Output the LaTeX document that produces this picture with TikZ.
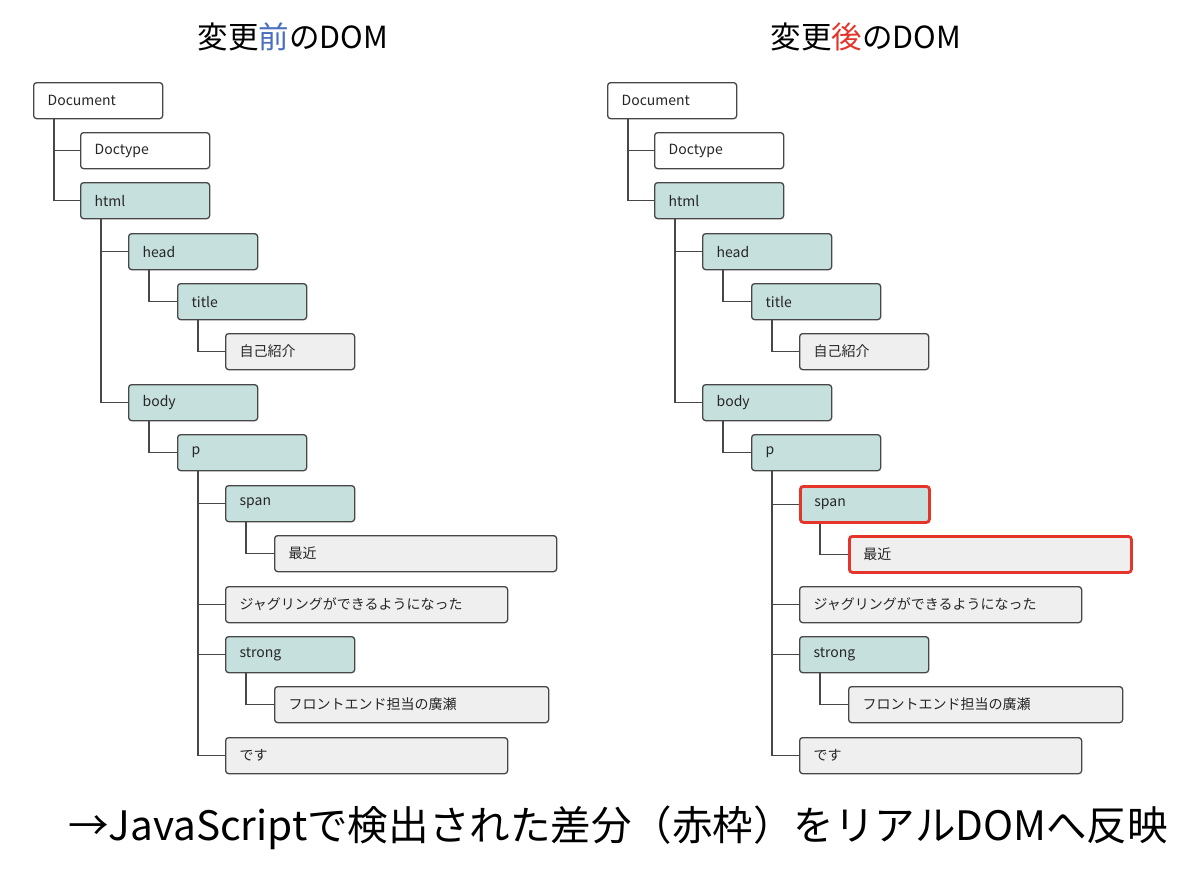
\documentclass[tikz,border=0pt]{standalone}
\usepackage{fontspec}
\setmainfont{Noto Sans CJK JP}
\definecolor{linec}{HTML}{474747}
\definecolor{tealf}{HTML}{C6E0DE}
\definecolor{grayf}{HTML}{EFEFEF}
\definecolor{redc}{HTML}{E5352B}
\definecolor{bluec}{HTML}{4A6FC0}
\tikzset{
  x=1pt, y=1pt,
  box/.style={draw=linec, line width=1.3pt, rounded corners=3pt, anchor=north west,
    minimum height=36pt, inner xsep=14pt, inner ysep=0pt, align=left,
    font=\fontsize{14}{16}\selectfont, text=black!85},
  wbox/.style={box, fill=white},
  tbox/.style={box, fill=tealf},
  gbox/.style={box, fill=grayf},
  changed/.style={draw=redc, line width=2.8pt},
  nw/.style={text width=101pt},
  lw/.style={text width=254pt},
  mw/.style={text width=246pt},
  conn/.style={draw=linec, line width=1.3pt},
  ttl/.style={font=\fontsize{30.5}{34}\selectfont, inner sep=0pt},
}
\begin{document}
\begin{tikzpicture}
\useasboundingbox (0,0) rectangle (1200,-881);
\fill[white] (0,0) rectangle (1200,-881);

\node[ttl] (t1) at (293,-37) {変更\textcolor{bluec}{前}のDOM};
\node[ttl] (t2) at (866,-37) {変更\textcolor{redc}{後}のDOM};

\foreach \ox/\tg/\ch in {0/L/0, 574/R/1}{
  \begin{scope}[xshift=\ox pt]
  \node[wbox,nw] (\tg doc) at (33,-82) {Document};
  \node[wbox,nw] (\tg dt) at (80,-132) {Doctype};
  \node[tbox,nw] (\tg html) at (80,-182) {html};
  \node[tbox,nw] (\tg head) at (128,-233) {head};
  \node[tbox,nw] (\tg title) at (177,-283) {title};
  \node[gbox,nw] (\tg jiko) at (225,-333) {自己紹介};
  \node[tbox,nw] (\tg body) at (128,-384) {body};
  \node[tbox,nw] (\tg p) at (177,-434) {p};
  \ifnum\ch=1
    \node[tbox,nw,changed] (\tg span) at (225,-485) {span};
    \node[gbox,lw,changed] (\tg saikin) at (274,-535) {最近};
  \else
    \node[tbox,nw] (\tg span) at (225,-485) {span};
    \node[gbox,lw] (\tg saikin) at (274,-535) {最近};
  \fi
  \node[gbox,lw] (\tg jag) at (225,-586) {ジャグリングができるようになった};
  \node[tbox,nw] (\tg strong) at (225,-636) {strong};
  \node[gbox,mw] (\tg front) at (274,-686) {フロントエンド担当の廣瀬};
  \node[gbox,lw] (\tg desu) at (225,-737) {です};
  \end{scope}
  \draw[conn] ([xshift=21pt]\tg doc.south west) |- (\tg dt.west);
  \draw[conn] ([xshift=21pt]\tg doc.south west) |- (\tg html.west);
  \draw[conn] ([xshift=21pt]\tg html.south west) |- (\tg head.west);
  \draw[conn] ([xshift=21pt]\tg html.south west) |- (\tg body.west);
  \draw[conn] ([xshift=21pt]\tg head.south west) |- (\tg title.west);
  \draw[conn] ([xshift=21pt]\tg title.south west) |- (\tg jiko.west);
  \draw[conn] ([xshift=21pt]\tg body.south west) |- (\tg p.west);
  \draw[conn] ([xshift=21pt]\tg p.south west) |- (\tg span.west);
  \draw[conn] ([xshift=21pt]\tg p.south west) |- (\tg jag.west);
  \draw[conn] ([xshift=21pt]\tg p.south west) |- (\tg strong.west);
  \draw[conn] ([xshift=21pt]\tg p.south west) |- (\tg desu.west);
  \draw[conn] ([xshift=21pt]\tg span.south west) |- (\tg saikin.west);
  \draw[conn] ([xshift=21pt]\tg strong.south west) |- (\tg front.west);
}

\node[inner sep=0pt] (bottom) at (618,-828) {\resizebox{1100pt}{!}{\fontsize{36}{40}\selectfont →JavaScriptで検出された差分（赤枠）をリアルDOMへ反映}};
\end{tikzpicture}
\end{document}
